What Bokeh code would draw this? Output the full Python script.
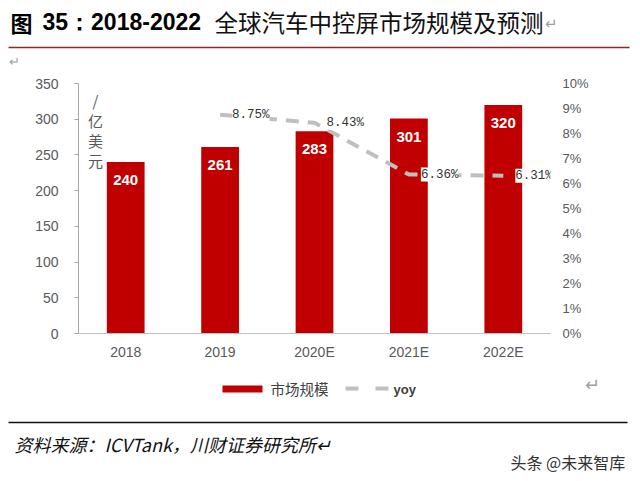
from bokeh.plotting import figure
from bokeh.layouts import column
from bokeh.models import (FactorRange, Range1d, LinearAxis, PrintfTickFormatter,
                          ColumnDataSource, LabelSet, Label, FixedTicker)
from bokeh.core.properties import value
from bokeh.embed import file_html
from bokeh.resources import INLINE

# Global automotive center-display market size (100M USD) and growth rate
years = ["2018", "2019", "2020E", "2021E", "2022E"]
market_size = [240, 261, 283, 301, 320]
yoy_years = ["2019", "2020E", "2021E", "2022E"]
yoy_pct = [8.75, 8.43, 6.36, 6.31]
left_ticks = [0, 50, 100, 150, 200, 250, 300, 350]
right_ticks = [0, 1, 2, 3, 4, 5, 6, 7, 8, 9, 10]

SANS = "Liberation Sans"
CJK = "Noto Sans CJK SC"
BAR_RED = "#C00000"
GRAY_TXT = "#595959"
W = 640


def panel(height, top):
    """A blank strip whose data coordinates equal page pixels."""
    f = figure(width=W, height=height, x_range=Range1d(0, W),
               y_range=Range1d(top + height, top),
               x_axis_type=None, y_axis_type=None,
               output_backend="svg", toolbar_location=None,
               min_border=0, frame_align=False)
    f.outline_line_color = None
    f.xgrid.grid_line_color = None
    f.ygrid.grid_line_color = None
    return f


# ---- heading strip ----
head = panel(70, 0)
head.add_layout(Label(x=10, y=21, text="图", text_baseline="middle",
                      text_font=CJK, text_font_style="bold",
                      text_font_size="22px", text_color="black"))
head.add_layout(Label(x=42, y=21, text="35：2018-2022", text_baseline="middle",
                      text_font=SANS, text_font_style="bold",
                      text_font_size="23px", text_color="black"))
head.add_layout(Label(x=214, y=21, text="全球汽车中控屏市场规模及预测",
                      text_baseline="middle", text_font=CJK,
                      text_font_size="23.5px", text_color="#111111"))
head.add_layout(Label(x=544, y=23, text="↵", text_baseline="middle",
                      text_font=SANS, text_font_size="15px", text_color="#A0A0A0"))
head.segment(x0=[8], y0=[47], x1=[629], y1=[47], line_color="#8B2A2A", line_width=1.5)
head.add_layout(Label(x=8, y=61, text="↵", text_baseline="middle",
                      text_font=SANS, text_font_size="13px", text_color="#A0A0A0"))

# ---- chart ----
p = figure(width=W, height=300,
           x_range=FactorRange(*years, range_padding=0),
           y_range=Range1d(0, 350),
           output_backend="svg", toolbar_location=None,
           min_border_left=78, min_border_right=90,
           min_border_top=13, min_border_bottom=37, frame_align=False)
p.outline_line_color = None
p.xgrid.grid_line_color = None
p.ygrid.grid_line_color = None

bars = ColumnDataSource(dict(year=years, size=market_size,
                             label=[str(v) for v in market_size]))
p.vbar(x="year", top="size", width=0.4, source=bars,
       fill_color=BAR_RED, line_color=None)
p.add_layout(LabelSet(x="year", y="size", text="label", source=bars,
                      y_offset=-18, text_align="center", text_baseline="middle",
                      text_color="white", text_font=value(SANS),
                      text_font_style="bold", text_font_size="15px"))

# growth-rate line on a secondary axis
p.extra_y_ranges = {"pct": Range1d(0, 10)}
growth = ColumnDataSource(dict(year=yoy_years, pct=yoy_pct,
                               label=["%.2f%%" % v for v in yoy_pct]))
p.line(x="year", y="pct", source=growth, y_range_name="pct",
       line_color="#BFBFBF", line_width=4, line_dash="13 9")
p.add_layout(LabelSet(x="year", y="pct", text="label", source=growth,
                      y_range_name="pct", x_offset=12, y_offset=0,
                      text_align="left", text_baseline="middle",
                      text_color="#333333", text_font=value("Liberation Mono"),
                      text_font_size="12.5px", background_fill_color="white"))

# left axis
ya = p.yaxis[0]
ya.ticker = FixedTicker(ticks=left_ticks)
ya.axis_line_color = "#A6A6A6"
ya.major_tick_line_color = "#A6A6A6"
ya.major_tick_out = 4
ya.major_tick_in = 0
ya.minor_tick_line_color = None
ya.major_label_standoff = 16
ya.major_label_text_font = SANS
ya.major_label_text_font_size = "14px"
ya.major_label_text_color = GRAY_TXT

# bottom axis
xa = p.xaxis[0]
xa.axis_line_color = "#BFBFBF"
xa.major_tick_line_color = None
xa.major_tick_out = 0
xa.major_tick_in = 0
xa.minor_tick_line_color = None
xa.major_label_standoff = 10
xa.major_label_text_font = SANS
xa.major_label_text_font_size = "14px"
xa.major_label_text_color = GRAY_TXT

# right axis
ra = LinearAxis(y_range_name="pct", ticker=FixedTicker(ticks=right_ticks),
                formatter=PrintfTickFormatter(format="%d%%"))
ra.axis_line_color = None
ra.major_tick_line_color = None
ra.major_tick_out = 0
ra.major_tick_in = 0
ra.minor_tick_line_color = None
ra.major_label_standoff = 12
ra.major_label_text_font = SANS
ra.major_label_text_font_size = "13px"
ra.major_label_text_color = GRAY_TXT
p.add_layout(ra, "right")

# unit label written vertically inside the plot
for i, ch in enumerate(["/", "亿", "美", "元"]):
    p.add_layout(Label(x=17, y=233 - 20 * i, x_units="screen", y_units="screen",
                       text=ch, text_align="center", text_baseline="middle",
                       text_font=CJK, text_font_size="15px", text_color=GRAY_TXT))

# ---- legend and source strip (page y 370..481) ----
foot = panel(111, 370)
foot.quad(left=[222], right=[262], top=[385], bottom=[392],
          fill_color=BAR_RED, line_color=None)
foot.add_layout(Label(x=270, y=388, text="市场规模", text_baseline="middle",
                      text_font=CJK, text_font_size="14.5px", text_color="#404040"))
foot.quad(left=[345, 375], right=[358, 388], top=[386, 386], bottom=[390, 390],
          fill_color="#BFBFBF", line_color=None)
foot.add_layout(Label(x=393, y=389, text="yoy", text_baseline="middle",
                      text_font=SANS, text_font_style="bold",
                      text_font_size="13px", text_color="#404040"))
foot.add_layout(Label(x=584, y=384, text="↵", text_baseline="middle",
                      text_font=SANS, text_font_size="18px", text_color="#A0A0A0"))
foot.segment(x0=[8], y0=[422], x1=[627], y1=[422], line_color="#111111", line_width=1.5)
foot.add_layout(Label(x=14, y=443, text="资料来源：ICVTank，川财证券研究所↵",
                      text_baseline="middle", text_font=CJK,
                      text_font_style="italic", text_font_size="18px",
                      text_color="#111111"))
foot.add_layout(Label(x=510, y=461, text="头条 @未来智库", text_baseline="middle",
                      text_font=CJK, text_font_size="16px", text_color="#333333"))

page = column(head, p, foot, spacing=0)
open("out.html", "w").write(file_html(page, INLINE))
